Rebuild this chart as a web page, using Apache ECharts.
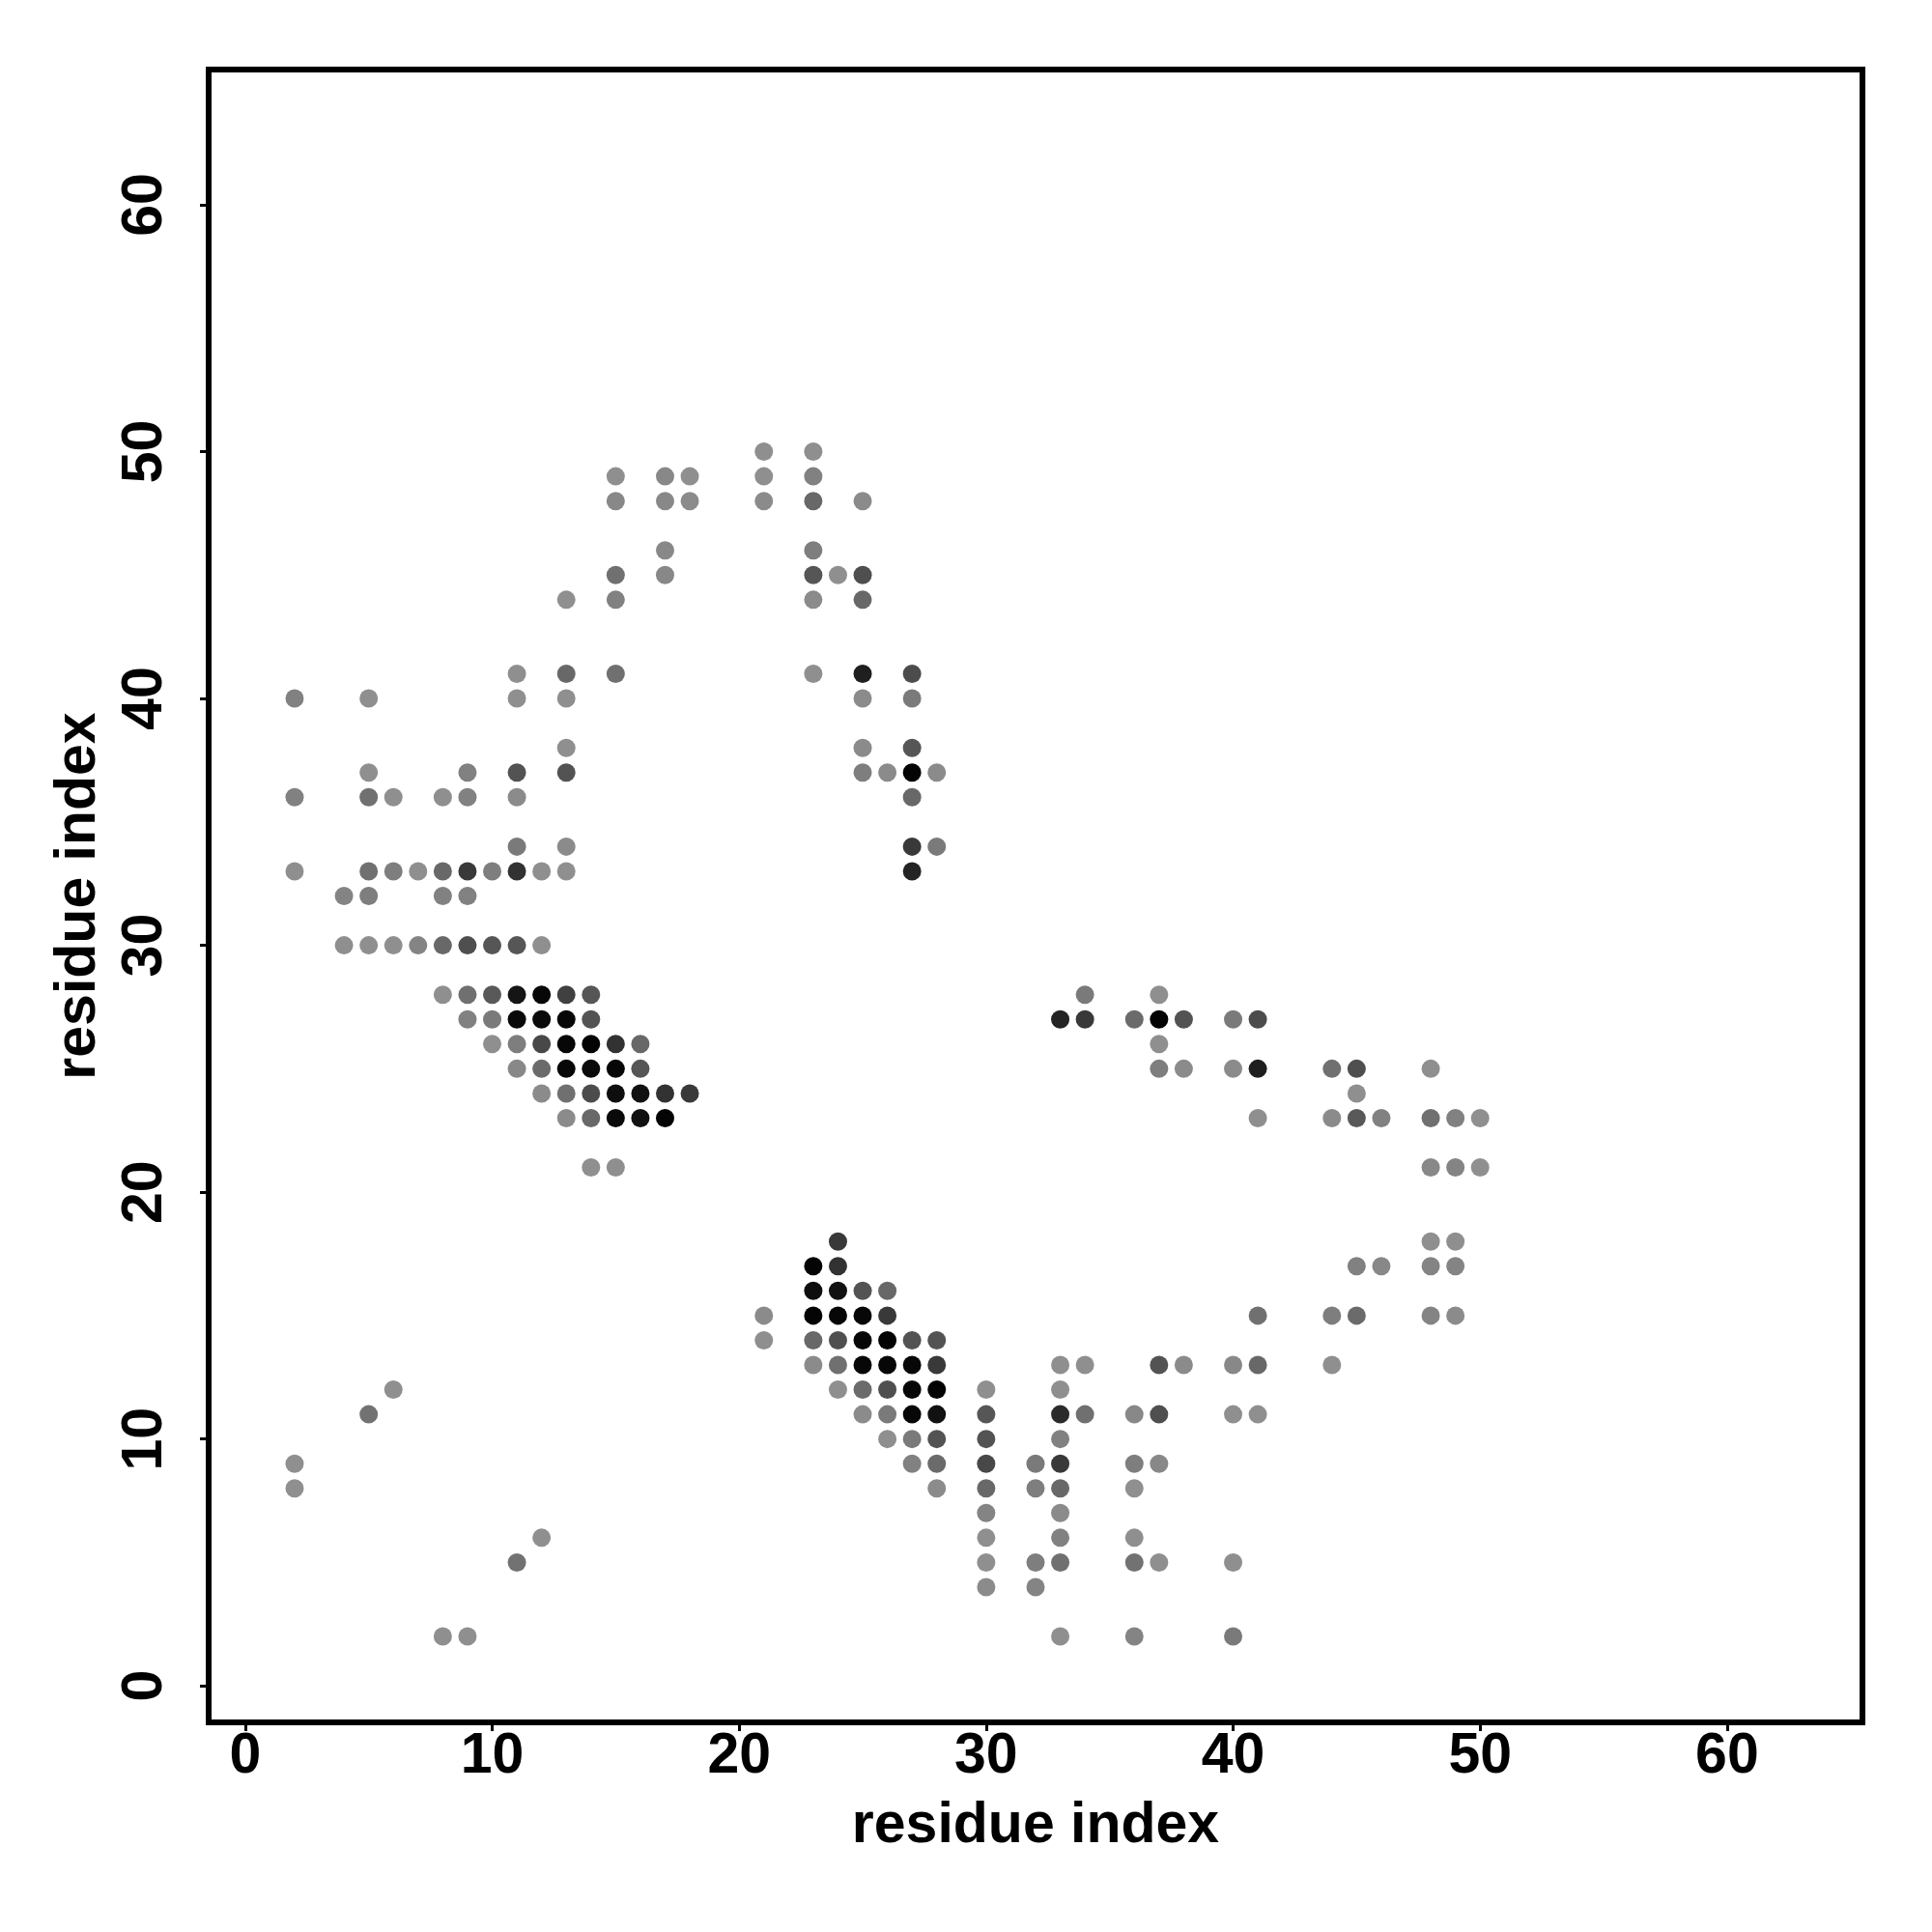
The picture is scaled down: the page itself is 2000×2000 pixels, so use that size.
<!DOCTYPE html>
<html>
<head>
<meta charset="utf-8">
<script src="https://cdn.jsdelivr.net/npm/echarts@6/dist/echarts.min.js"></script>
<style>html,body{margin:0;padding:0;background:#fff}#c{width:2000px;height:2000px}</style>
</head>
<body>
<div id="c"></div>
<script>
// residue i, residue j, contact strength (0 = faint, 1 = strongest)
const contactX = [
  15,17,18,21,23, 15,17,18,21,23,25, 21,23, 17,23, 15,17,23,24,25, 13,15,23,25,
  11,13,15,23,25,27, 2,5,11,13,25,27, 13,25,27, 5,9,11,13,25,26,27,28,
  2,5,6,8,9,11,27,
  27,28,27, 34,33,34, 18, 24,
  11,13, 2,5,6,7,8,9,10,11,12,13, 4,5,8,9,
  4,5,6,7,8,9,10,11,12,
  8,9,10,11,12,13,14, 9,10,11,12,13,14, 10,11,12,13,14,15,16,
  11,12,13,14,15,16, 12,13,14,15,16,17, 13,14,15,16,17, 14,15,
  37, 36,37,38,40,41, 37, 37,38,40,41,44,45,48, 45, 41,44,45,46,48,49,50,
  48,49,50, 48,49,
  45,46,48,49, 41,44,45,48,49, 37,38,40,41,44, 36,37,40,41, 36,37, 36, 36, 36,37,40, 36,40,
  23,24, 23,24,25,26, 21,23,24,25,26, 21,23,24,25,26,27,28,
  23,24,25,26,27,28,33,34, 24,25,26,27,28,30,33, 25,26,27,28,30,33,34,
  26,27,28,30,33, 27,28,30,32,33, 28,30,32,33, 30,33, 30,33, 30,32,33, 30,32, 33,
  6,5,2,2,12,11,8,9
];
const contactY = [
  49,49,49,49,49, 48,48,48,48,48,48, 50,50, 46,46, 45,45,45,45,45, 44,44,44,44,
  41,41,41,41,41,41, 40,40,40,40,40,40, 38,38,38, 37,37,37,37,37,37,37,37,
  36,36,36,36,36,36,36,
  34,34,33, 28,27,27, 24, 18,
  34,34, 33,33,33,33,33,33,33,33,33,33, 32,32,32,32,
  30,30,30,30,30,30,30,30,30,
  28,28,28,28,28,28,28, 27,27,27,27,27,27, 26,26,26,26,26,26,26,
  25,25,25,25,25,25, 24,24,24,24,24,24, 23,23,23,23,23, 21,21,
  28, 27,27,27,27,27, 26, 25,25,25,25,25,25,25, 24, 23,23,23,23,23,23,23,
  21,21,21, 18,18,
  17,17,17,17, 15,15,15,15,15, 13,13,13,13,13, 11,11,11,11, 9,9, 8, 6, 5,5,5, 2,2,
  17,17, 16,16,16,16, 15,15,15,15,15, 14,14,14,14,14,14,14,
  13,13,13,13,13,13,13,13, 12,12,12,12,12,12,12, 11,11,11,11,11,11,11,
  10,10,10,10,10, 9,9,9,9,9, 8,8,8,8, 7,7, 6,6, 5,5,5, 4,4, 2,
  12,11,9,8,6,5,2,2
];
const contactW = [
  0,0.05,0,0,0.1, 0.05,0.05,0.03,0.03,0.27,0.03, 0,0, 0.05,0.12, 0.22,0.05,0.4,0,0.45, 0,0.1,0.03,0.27,
  0,0.27,0.22,0,0.78,0.47, 0.1,0,0,0,0.03,0.15, 0,0.03,0.4, 0,0.1,0.42,0.42,0.12,0.03,0.97,0.03,
  0.1,0.22,0,0,0.1,0.03,0.27,
  0.6,0.15,0.75, 0.15,0.75,0.6, 0.6, 0.6,
  0.15,0.03, 0,0.22,0.12,0,0.27,0.6,0.12,0.65,0,0, 0.08,0.12,0.1,0.1,
  0,0,0,0.08,0.27,0.45,0.4,0.4,0,
  0,0.22,0.38,0.85,0.95,0.55,0.4, 0.1,0.15,0.94,0.93,0.95,0.42, 0,0.12,0.5,0.95,0.97,0.65,0.27,
  0.05,0.25,0.95,0.93,0.95,0.4, 0.03,0.22,0.47,0.9,0.88,0.65, 0.03,0.27,0.93,0.88,0.97, 0,0,
  0, 0.25,0.98,0.42,0.15,0.47, 0, 0.12,0.03,0.03,0.78,0.22,0.45,0, 0, 0,0.03,0.38,0.1,0.22,0.1,0,
  0.05,0.08,0, 0,0,
  0.1,0.05,0.08,0.08, 0.22,0.12,0.25,0.08,0.03, 0.42,0.03,0.05,0.27,0, 0.05,0.45,0,0, 0.12,0.05, 0, 0, 0.2,0,0, 0.08,0.15,
  0.97,0.65, 0.9,0.88,0.42,0.27, 0.03,0.97,0.95,0.95,0.6, 0,0.27,0.45,0.95,0.97,0.42,0.42,
  0.03,0.22,0.95,0.95,0.95,0.6,0,0, 0,0.25,0.45,0.95,0.97,0,0, 0.03,0.15,0.95,0.88,0.4,0.7,0.22,
  0,0.15,0.42,0.42,0.1, 0.1,0.25,0.5,0.15,0.6, 0.03,0.27,0.12,0.27, 0.08,0.03, 0,0.1, 0,0.12,0.22, 0.03,0.08, 0,
  0,0.2,0,0,0,0.2,0,0
];
const tickValues = [0, 10, 20, 30, 40, 50, 60];
const axisTitle = 'residue index';

const points = contactX.map((x, i) => [x, contactY[i], contactW[i]]);

const font = 'Liberation Sans, Arial, Helvetica, sans-serif';
const chart = echarts.init(document.getElementById('c'), null, {renderer: 'canvas'});

function makeAxis(isY) {
  return {
    type: 'value',
    min: -1.48,
    max: 65.48,
    name: axisTitle,
    nameLocation: 'middle',
    nameGap: isY ? 134 : 108,
    nameTextStyle: {fontFamily: font, fontWeight: 'bold', fontSize: 59, color: '#000', verticalAlign: 'middle'},
    axisLine: {show: false, onZero: false},
    splitLine: {show: false},
    axisTick: {show: true, customValues: tickValues, length: 9, lineStyle: {color: '#000', width: 3}},
    axisLabel: {
      customValues: tickValues,
      fontFamily: font, fontWeight: 'bold', fontSize: 59, color: '#000',
      margin: isY ? 36 : 6,
      rotate: isY ? 90 : 0
    }
  };
}

chart.setOption({
  animation: false,
  backgroundColor: '#fff',
  grid: {
    left: 216, top: 72, width: 1712, height: 1711,
    show: true, borderColor: '#000', borderWidth: 6, backgroundColor: 'transparent'
  },
  xAxis: makeAxis(false),
  yAxis: makeAxis(true),
  visualMap: {
    show: false,
    type: 'continuous',
    dimension: 2,
    min: 0, max: 1,
    inRange: {color: ['#8f8f8f', '#000000']}
  },
  series: [{
    type: 'scatter',
    data: points,
    symbol: 'circle',
    symbolSize: 19,
    itemStyle: {opacity: 1}
  }]
});
</script>
</body>
</html>
